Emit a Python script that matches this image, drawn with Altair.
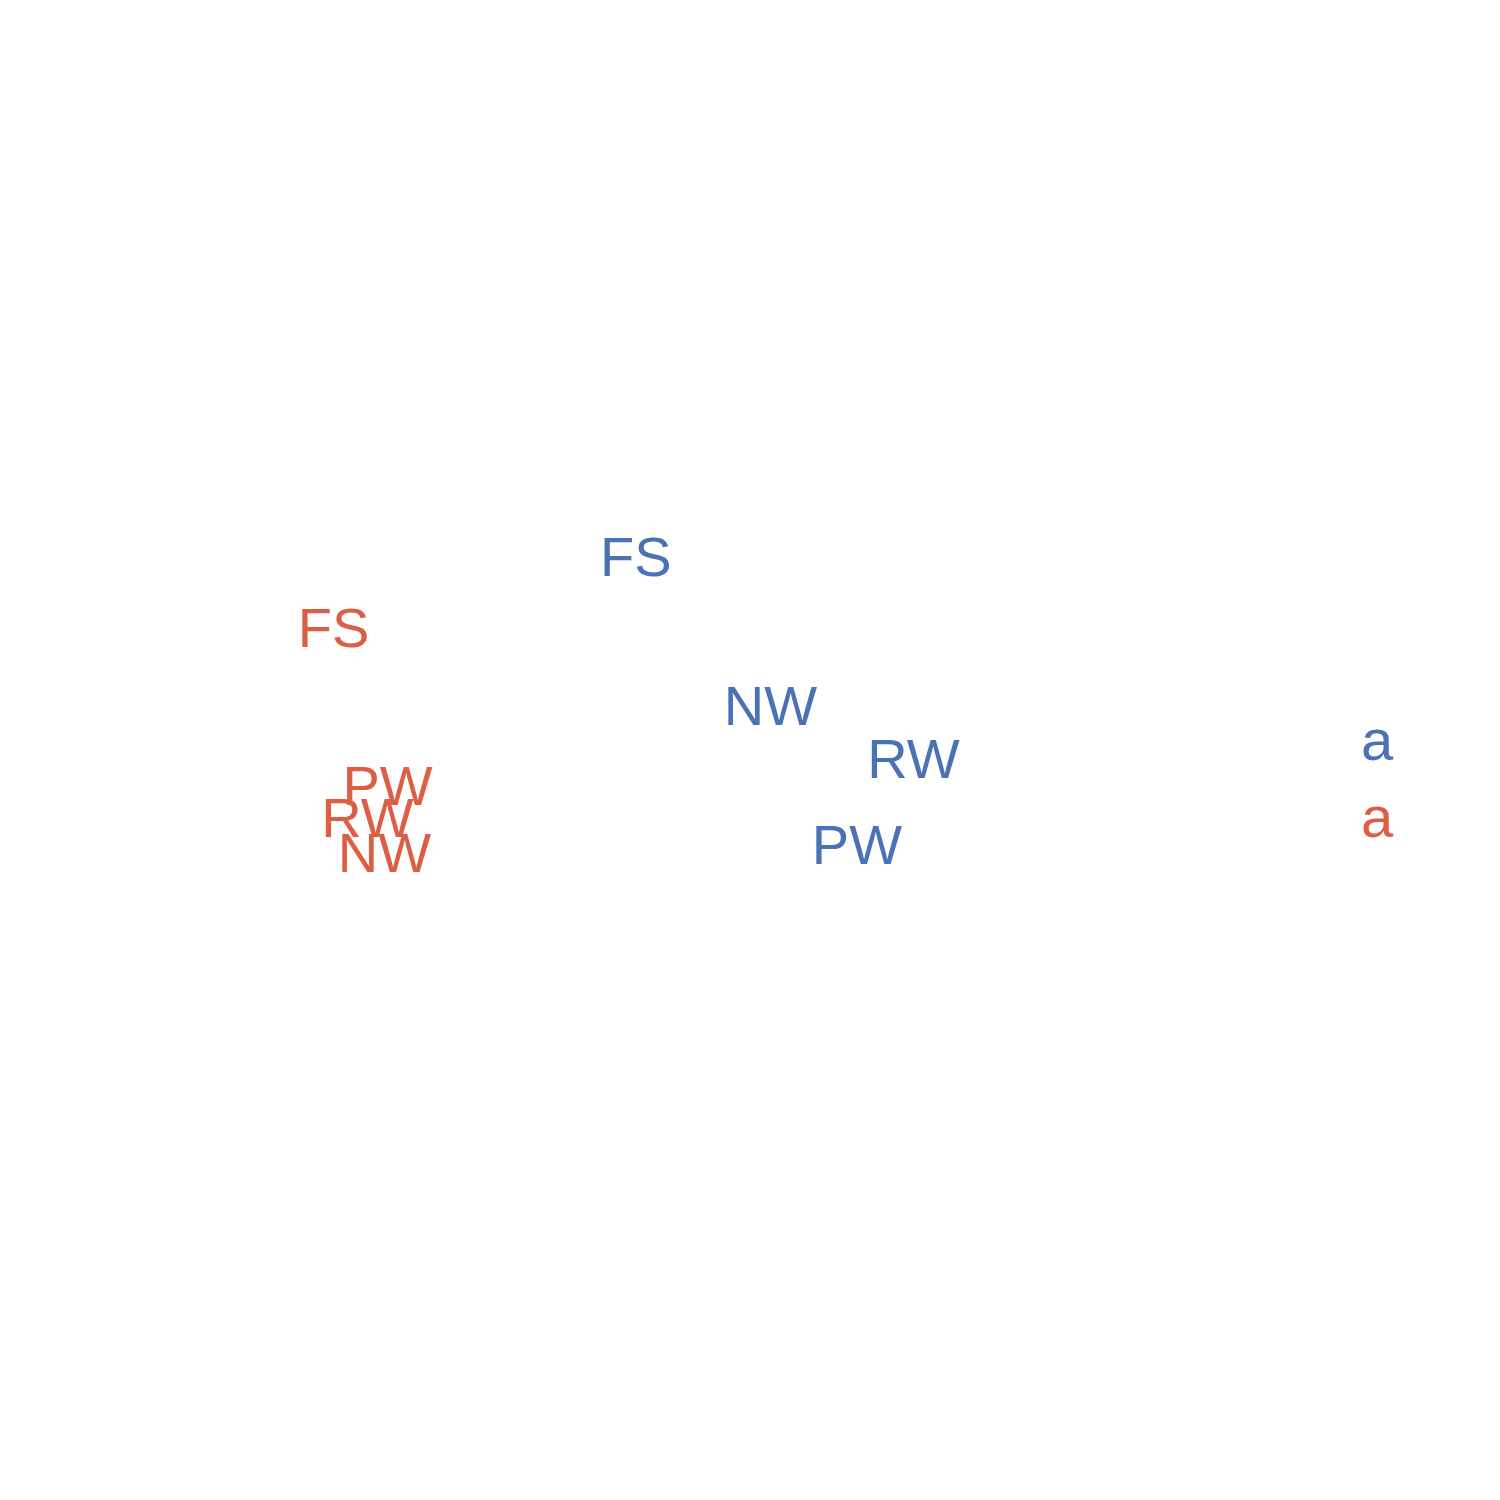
import altair as alt
import pandas as pd

# ordination-style scores
labels = ["FS", "NW", "RW", "PW", "FS", "PW", "RW", "NW"]
group = ["b", "b", "b", "b", "r", "r", "r", "r"]
xs = [-0.034, 0.173, 0.393, 0.306, -0.499, -0.416, -0.447, -0.421]
ys = [0.257, 0.056, -0.015, -0.131, 0.162, -0.051, -0.094, -0.142]

groups = ["b", "r"]
colors = ["#4A72B5", "#DB5E45"]
legend_glyph = ["a", "a"]

df = pd.DataFrame({"label": labels, "group": group, "x": xs, "y": ys})
leg = pd.DataFrame({"group": groups, "glyph": legend_glyph})

color = alt.Color("group:N", scale=alt.Scale(domain=groups, range=colors), legend=None)

main = alt.Chart(df).mark_text(
    font="Liberation Sans", fontSize=56, align="center", baseline="middle"
).encode(
    x=alt.X("x:Q", scale=alt.Scale(domain=[-1, 1], nice=False, zero=False), axis=None),
    y=alt.Y("y:Q", scale=alt.Scale(domain=[-1, 1], nice=False, zero=False), axis=None),
    text="label:N",
    color=color,
).properties(width=1300, height=1484)

legend = alt.Chart(leg).mark_text(
    font="Liberation Sans", fontSize=58, align="center", baseline="middle", dy=53
).encode(
    y=alt.Y("group:N", sort=groups, scale=alt.Scale(type="point", padding=0.5), axis=None),
    text="glyph:N",
    color=color,
).properties(width=100, height=154)

chart = alt.hconcat(main, legend, spacing=19, center=True).properties(
    padding=0, background="white"
).configure_view(strokeWidth=0, stroke="transparent")

chart.save("out.html", embed_options={"renderer": "svg", "actions": False})
